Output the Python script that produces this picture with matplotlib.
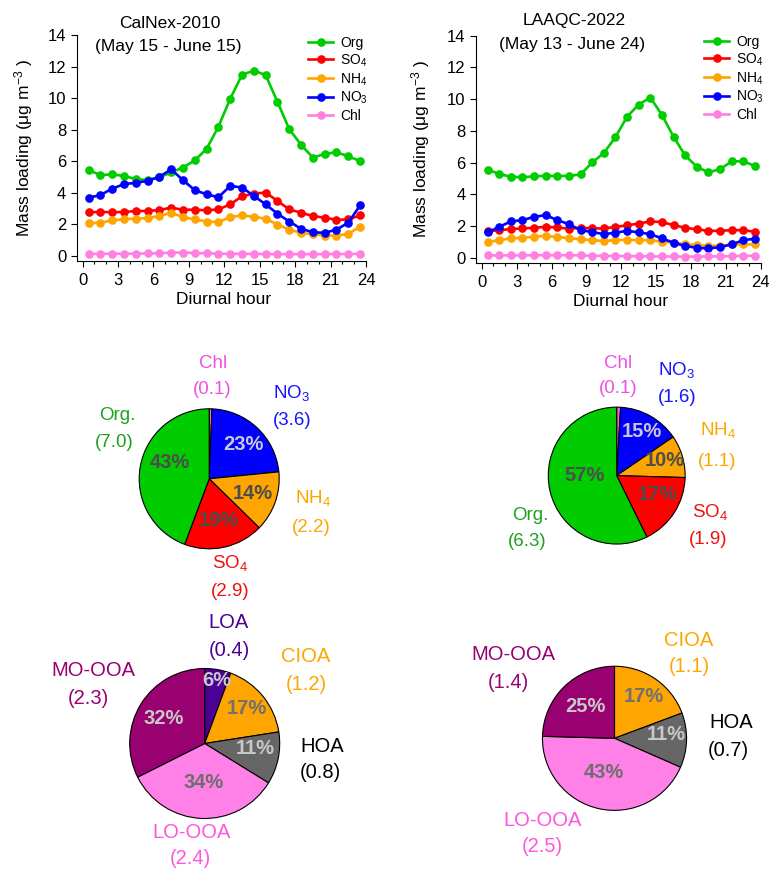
import matplotlib
matplotlib.use("Agg")
import matplotlib.pyplot as plt
from matplotlib.ticker import MultipleLocator
import numpy as np

plt.rcParams["font.family"] = ["Liberation Sans", "DejaVu Sans"]
plt.rcParams["mathtext.fontset"] = "custom"
plt.rcParams["mathtext.rm"] = "Liberation Sans"
plt.rcParams["mathtext.it"] = "Liberation Sans:italic"
plt.rcParams["mathtext.bf"] = "Liberation Sans:bold"

# ---------------- diurnal data (µg m-3) ----------------
hours = np.arange(24) + 0.5

calnex_org = [5.44, 5.12, 5.16, 5.07, 4.86, 4.80, 4.97, 5.29, 5.60, 6.05, 6.78, 8.19,
              9.96, 11.49, 11.75, 11.47, 9.77, 8.04, 7.04, 6.23, 6.46, 6.57, 6.31, 6.01]
calnex_so4 = [2.77, 2.77, 2.77, 2.77, 2.84, 2.84, 2.90, 3.05, 2.92, 2.92, 2.88, 2.94,
              3.26, 3.77, 3.94, 4.01, 3.48, 2.94, 2.73, 2.52, 2.41, 2.28, 2.30, 2.56]
calnex_nh4 = [2.07, 2.09, 2.24, 2.32, 2.35, 2.39, 2.52, 2.73, 2.45, 2.30, 2.17, 2.13,
              2.45, 2.56, 2.47, 2.35, 1.98, 1.66, 1.45, 1.36, 1.28, 1.28, 1.39, 1.85]
calnex_no3 = [3.69, 3.84, 4.26, 4.54, 4.63, 4.75, 5.01, 5.48, 4.80, 4.16, 3.90, 3.71,
              4.43, 4.33, 3.80, 3.26, 2.67, 2.17, 1.71, 1.49, 1.45, 1.66, 2.09, 3.20]
calnex_chl = [0.12, 0.12, 0.13, 0.13, 0.13, 0.14, 0.15, 0.20, 0.20, 0.17, 0.15, 0.13,
              0.12, 0.12, 0.11, 0.11, 0.10, 0.10, 0.10, 0.10, 0.10, 0.11, 0.11, 0.12]

laaqc_org = [5.55, 5.29, 5.10, 5.08, 5.13, 5.17, 5.15, 5.17, 5.25, 6.01, 6.60, 7.61,
             8.89, 9.66, 10.10, 9.01, 7.63, 6.45, 5.74, 5.38, 5.59, 6.07, 6.09, 5.78]
laaqc_so4 = [1.66, 1.74, 1.81, 1.85, 1.89, 1.95, 1.91, 1.83, 1.89, 1.85, 1.85, 1.95,
             2.04, 2.16, 2.29, 2.25, 2.06, 1.89, 1.79, 1.70, 1.70, 1.74, 1.74, 1.64]
laaqc_nh4 = [0.99, 1.11, 1.22, 1.26, 1.32, 1.39, 1.30, 1.24, 1.16, 1.11, 1.05, 1.11,
             1.13, 1.11, 1.11, 1.01, 0.95, 0.86, 0.80, 0.76, 0.76, 0.84, 0.84, 0.84]
laaqc_no3 = [1.60, 1.95, 2.29, 2.37, 2.58, 2.69, 2.37, 2.12, 1.74, 1.62, 1.49, 1.58,
             1.70, 1.60, 1.49, 1.22, 0.95, 0.74, 0.63, 0.59, 0.67, 0.84, 1.11, 1.20]
laaqc_chl = [0.15, 0.15, 0.15, 0.15, 0.16, 0.16, 0.16, 0.16, 0.15, 0.13, 0.12, 0.11,
             0.10, 0.10, 0.09, 0.08, 0.08, 0.07, 0.07, 0.08, 0.09, 0.10, 0.12, 0.13]

species_labels = ["Org", "SO$_4$", "NH$_4$", "NO$_3$", "Chl"]
species_colors = ["#00cc00", "#ff0000", "#ffa500", "#0000ff", "#ff80e0"]

# ---------------- campaign-average composition ----------------
chem_names = ["Chl", "NO$_3$", "NH$_4$", "SO$_4$", "Org."]
chem_fill = ["#ff66dd", "#0000ff", "#ffa500", "#ff0000", "#00cc00"]
chem_text = ["#f050e0", "#1414ff", "#ffa500", "#f01010", "#1fa01f"]
calnex_chem_values = [0.1, 3.6, 2.2, 2.9, 7.0]
calnex_chem_pct = ["", "23%", "14%", "19%", "43%"]
laaqc_chem_values = [0.1, 1.6, 1.1, 1.9, 6.3]
laaqc_chem_pct = ["", "15%", "10%", "17%", "57%"]

calnex_oa_names = ["LOA", "CIOA", "HOA", "LO-OOA", "MO-OOA"]
calnex_oa_values = [0.4, 1.2, 0.8, 2.4, 2.3]
calnex_oa_pct = ["6%", "17%", "11%", "34%", "32%"]
laaqc_oa_names = ["CIOA", "HOA", "LO-OOA", "MO-OOA"]
laaqc_oa_values = [1.1, 0.7, 2.5, 1.4]
laaqc_oa_pct = ["17%", "11%", "43%", "25%"]

oa_fill = {"LOA": "#4b0096", "CIOA": "#ffa500", "HOA": "#666666",
           "LO-OOA": "#ff80e6", "MO-OOA": "#990070"}
oa_text = {"LOA": "#4b0096", "CIOA": "#ffa500", "HOA": "#000000",
           "LO-OOA": "#ff55dd", "MO-OOA": "#990070"}
oa_pct_color = {"LOA": "#c8c8c8", "CIOA": "#707070", "HOA": "#c8c8c8",
                "LO-OOA": "#6e6e6e", "MO-OOA": "#c8c8c8"}
chem_pct_color = ["#4d4d4d", "#c8c8d0", "#4d4d4d", "#4d4d4d", "#4d4d4d"]

# ---------------- figure ----------------
W, H = 769, 869
fig = plt.figure(figsize=(W / 100, H / 100), dpi=100)


def fx(px):
    return px / W


def fy(py):
    return 1 - py / H


def diurnal_panel(rect, series, title, date_range, title_xy, xlabel_xy, ylabel_x, leg_xy):
    ax = fig.add_axes(rect)
    for vals, lab, col in zip(series, species_labels, species_colors):
        ax.plot(hours, vals, color=col, lw=1.9, marker="o", ms=5.2, label=lab)
    ax.set_xlim(-0.5, 24)
    ax.set_ylim(-0.33, 14)
    ax.xaxis.set_major_locator(MultipleLocator(3))
    ax.xaxis.set_minor_locator(MultipleLocator(1))
    ax.yaxis.set_major_locator(MultipleLocator(2))
    for s in ("top", "right"):
        ax.spines[s].set_visible(False)
    for s in ("left", "bottom"):
        ax.spines[s].set_linewidth(0.8)
    ax.tick_params(which="major", length=4, width=0.8, labelsize=12, pad=3.5)
    ax.tick_params(axis="x", which="major", pad=4.5)
    ax.tick_params(which="minor", length=2.2, width=0.8)
    ax.tick_params(axis="y", which="minor", left=False)
    fig.text(fx(title_xy[0]), fy(title_xy[1]), title, ha="center", va="center", fontsize=12.5)
    fig.text(fx(title_xy[0] - 2), fy(title_xy[1] + 24), date_range, ha="center", va="center",
             fontsize=12.5)
    fig.text(fx(xlabel_xy[0]), fy(xlabel_xy[1]), "Diurnal hour", ha="center", va="center",
             fontsize=12.5)
    fig.text(fx(ylabel_x), 0.5 * (rect[1] * 2 + rect[3]), r"Mass loading (μg m$^{-3}$ )",
             rotation=90, ha="center", va="center", fontsize=12.5)
    ax.legend(loc="upper left", bbox_to_anchor=(fx(leg_xy[0]), fy(leg_xy[1])),
              bbox_transform=fig.transFigure, frameon=False, fontsize=10,
              handlelength=1.8, handletextpad=0.5, labelspacing=0.17,
              borderpad=0, borderaxespad=0, markerscale=1.0)
    return ax


diurnal_panel([fx(76.7), fy(260.9), (366 - 76.7) / W, (260.9 - 35.2) / H],
              [calnex_org, calnex_so4, calnex_nh4, calnex_no3, calnex_chl],
              "CalNex-2010", "(May 15 - June 15)", (170, 23), (224, 300), 24, (308, 36))
diurnal_panel([fx(476), fy(263), (760.7 - 476) / W, (263 - 35.7) / H],
              [laaqc_org, laaqc_so4, laaqc_nh4, laaqc_no3, laaqc_chl],
              "LAAQC-2022", "(May 13 - June 24)", (574, 21), (621, 302), 421, (704, 35))


def pie_panel(center, r, values, colors):
    cx, cy = center
    ax = fig.add_axes([fx(cx - r), fy(cy + r), 2 * r / W, 2 * r / H])
    ax.pie(values, colors=colors, startangle=90, counterclock=False, radius=1,
           wedgeprops=dict(edgecolor="black", linewidth=0.8))
    ax.set_xlim(-1.02, 1.02)
    ax.set_ylim(-1.02, 1.02)
    ax.set_axis_off()
    return ax


def put(xy, s, color, size, bold=False):
    fig.text(fx(xy[0]), fy(xy[1]), s, ha="center", va="center", color=color,
             fontsize=size, fontweight="bold" if bold else "normal")


# CalNex composition pie
pie_panel((209.2, 478.8), 71.4, calnex_chem_values, chem_fill)
calnex_chem_name_xy = [(213, 363), (292, 393), (313, 498), (230, 563), (117, 416)]
calnex_chem_val_xy = [(212, 390), (292, 421), (311, 527), (230, 592), (114, 442)]
calnex_chem_pct_xy = [None, (243, 445), (253, 493), (219, 521), (170, 463)]
for i, name in enumerate(chem_names):
    put(calnex_chem_name_xy[i], name, chem_text[i], 13.5)
    put(calnex_chem_val_xy[i], f"({calnex_chem_values[i]:.1f})", chem_text[i], 13.5)
    if calnex_chem_pct[i]:
        put(calnex_chem_pct_xy[i], calnex_chem_pct[i], chem_pct_color[i], 14.5, bold=True)

# LAAQC composition pie
pie_panel((616.7, 475.6), 69.8, laaqc_chem_values, chem_fill)
laaqc_chem_name_xy = [(618, 363), (677, 370), (718, 430), (710, 512), (530, 515)]
laaqc_chem_val_xy = [(618, 389), (677, 398), (717, 462), (708, 540), (527, 541)]
laaqc_chem_pct_xy = [None, (642, 431), (665, 460), (658, 494), (585, 476)]
for i, name in enumerate(chem_names):
    put(laaqc_chem_name_xy[i], name, chem_text[i], 13.5)
    put(laaqc_chem_val_xy[i], f"({laaqc_chem_values[i]:.1f})", chem_text[i], 13.5)
    if laaqc_chem_pct[i]:
        put(laaqc_chem_pct_xy[i], laaqc_chem_pct[i], chem_pct_color[i], 14.5, bold=True)

# CalNex OA factor pie
pie_panel((204.7, 743.5), 76.5, calnex_oa_values, [oa_fill[n] for n in calnex_oa_names])
calnex_oa_name_xy = [(229, 623), (306, 657), (322, 747), (192, 832), (93, 671)]
calnex_oa_val_xy = [(229, 650), (306, 685), (320, 773), (190, 858), (88, 698)]
calnex_oa_pct_xy = [(217, 680), (247, 708), (255, 748), (204, 782), (164, 719)]
for i, name in enumerate(calnex_oa_names):
    put(calnex_oa_name_xy[i], name, oa_text[name], 14.5)
    put(calnex_oa_val_xy[i], f"({calnex_oa_values[i]:.1f})", oa_text[name], 14.5)
    put(calnex_oa_pct_xy[i], calnex_oa_pct[i], oa_pct_color[name], 14.5, bold=True)

# LAAQC OA factor pie
pie_panel((614.5, 738.3), 73.5, laaqc_oa_values, [oa_fill[n] for n in laaqc_oa_names])
laaqc_oa_name_xy = [(689, 640), (731, 723), (543, 820), (513, 655)]
laaqc_oa_val_xy = [(689, 667), (728, 750), (542, 847), (508, 682)]
laaqc_oa_pct_xy = [(644, 697), (666, 735), (604, 772), (585, 707)]
for i, name in enumerate(laaqc_oa_names):
    put(laaqc_oa_name_xy[i], name, oa_text[name], 14.5)
    put(laaqc_oa_val_xy[i], f"({laaqc_oa_values[i]:.1f})", oa_text[name], 14.5)
    put(laaqc_oa_pct_xy[i], laaqc_oa_pct[i], oa_pct_color[name], 14.5, bold=True)

fig.savefig("out.png", dpi=100)
